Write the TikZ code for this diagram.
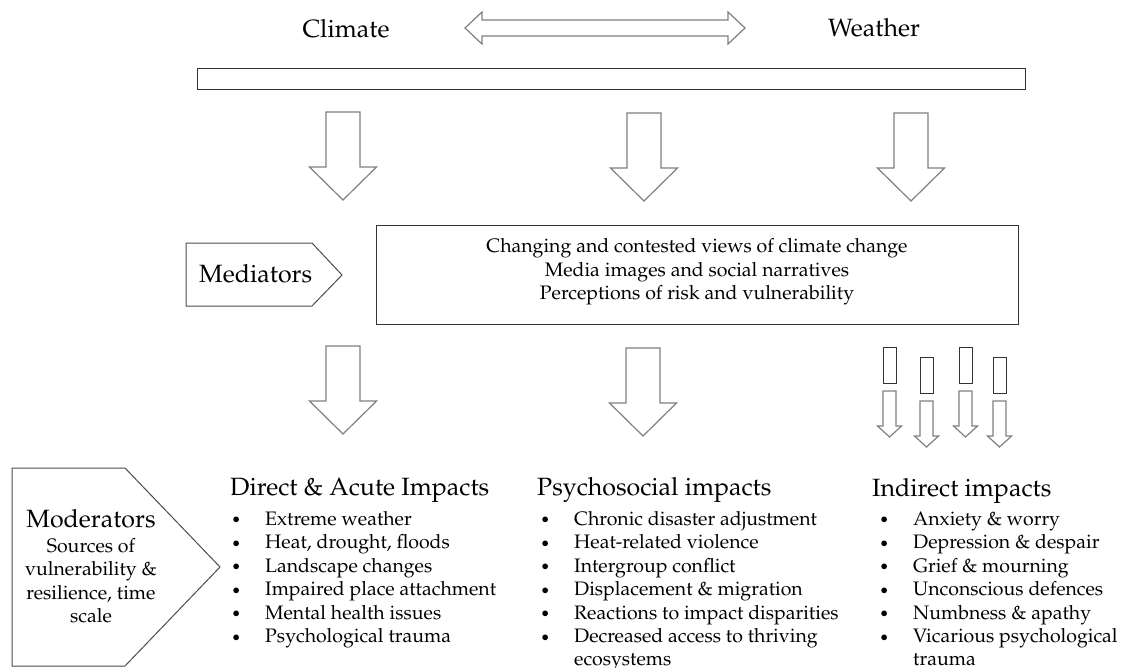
\documentclass[tikz,border=0pt]{standalone}
\usepackage[T1]{fontenc}
\usepackage{mathpazo}
\usetikzlibrary{positioning}

\tikzset{
  blockarrow/.style={draw=black!50, line width=1.2pt, fill=white, line join=miter},
  frame/.style={draw=black!80, line width=1pt},
  tag/.style={draw=black!70, line width=1pt, fill=white},
  big/.style={font=\fontsize{25}{30}\selectfont},
  small/.style={font=\fontsize{19.5}{23.5}\selectfont},
  head/.style={big, anchor=base west, inner sep=0pt},
  item/.style={small, anchor=base west, inner sep=0pt},
}
\newcommand{\bul}{\llap{\raisebox{1.5pt}{\fontsize{14}{14}\selectfont$\bullet$}\hspace{25pt}}}

\begin{document}
\begin{tikzpicture}[x=1pt, y=-1pt]
    \useasboundingbox (0,0) rectangle (1131,667);

    % Climate <-> Weather
    \node[big, anchor=base, inner sep=0pt] (climate) at (346,37) {Climate};
    \node[big, anchor=base, inner sep=0pt] (weather) at (874,36) {Weather};
    \draw[blockarrow] (465,28) -- (482,12) -- (482,20) -- (728,20) -- (728,12) -- (745,28)
        -- (728,44) -- (728,36) -- (482,36) -- (482,44) -- cycle;

    % Barra
    \draw[frame] (197,68) rectangle (1025,89);

    % Frecce grandi
    \foreach \c/\t in {343/112, 644/113, 911/113, 343/346, 643/348} {
        \draw[blockarrow] (\c-17,\t) -- (\c+17,\t) -- (\c+17,\t+55) -- (\c+33.5,\t+55)
            -- (\c,\t+88) -- (\c-33.5,\t+55) -- (\c-17,\t+55) -- cycle;
    }

    % Frecce piccole
    \foreach \c/\o in {889.5/0, 926.5/10, 965.5/0, 999.5/10} {
        \draw[frame] (\c-6.5,347+\o) rectangle (\c+6.5,383+\o);
        \draw[blockarrow] (\c-6.5,391+\o) -- (\c+6.5,391+\o) -- (\c+6.5,426+\o) -- (\c+12,426+\o)
            -- (\c,437+\o) -- (\c-12,426+\o) -- (\c-6.5,426+\o) -- cycle;
    }

    % Mediators
    \draw[tag] (186,243) -- (312,243) -- (342,275) -- (312,306) -- (186,306) -- cycle;
    \node[head] (mediators) at (199,282) {Mediators};
    \draw[frame] (376,225) rectangle (1018,324);
    \node[small, align=center] (views) at (697,272) {Changing and contested views of climate change\\
        Media images and social narratives\\ Perceptions of risk and vulnerability};

    % Moderators
    \draw[tag] (12,468) -- (125,468) -- (220,567) -- (125,666) -- (12,666) -- cycle;
    \node[big, anchor=base, inner sep=0pt] (moderators) at (91,527) {Moderators};
    \foreach \t [count=\i] in {Sources of, vulnerability \&, {resilience, time}, scale}
        \node[small, anchor=base, inner sep=0pt] (source\i) at (91,528.5+23.5*\i) {\t};

    % Impatti diretti
    \node[head] (direct) at (230,495) {Direct \& Acute Impacts};
    \foreach \t [count=\i] in {Extreme weather, {Heat, drought, floods}, Landscape changes,
        Impaired place attachment, Mental health issues, Psychological trauma}
        \node[item] (direct\i) at (265,501.5+23.5*\i) {\bul\t};

    % Impatti psicosociali
    \node[head] (psycho) at (537,495) {Psychosocial impacts};
    \foreach \t [count=\i] in {Chronic disaster adjustment, Heat-related violence, Intergroup conflict,
        Displacement \& migration, Reactions to impact disparities, Decreased access to thriving}
        \node[item] (psycho\i) at (574,501.5+23.5*\i) {\bul\t};
    \node[item] (psycho7) at (574,665) {ecosystems};

    % Impatti indiretti
    \node[head] (indirect) at (872,496) {Indirect impacts};
    \foreach \t [count=\i] in {Anxiety \& worry, Depression \& despair, Grief \& mourning,
        Unconscious defences, Numbness \& apathy, Vicarious psychological}
        \node[item] (indirect\i) at (913,501.5+23.5*\i) {\bul\t};
    \node[item] (indirect7) at (913,665) {trauma};

\end{tikzpicture}
\end{document}
